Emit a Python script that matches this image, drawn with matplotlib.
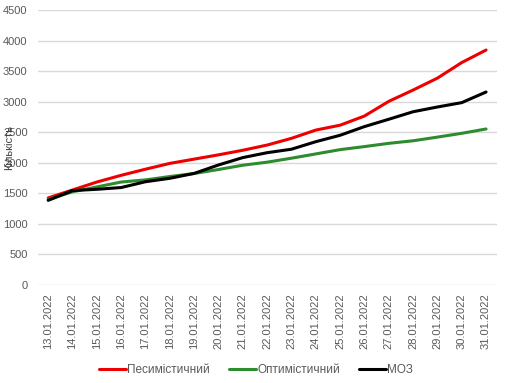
import matplotlib
matplotlib.use("Agg")
import matplotlib.pyplot as plt

dates = ["13.01.2022", "14.01.2022", "15.01.2022", "16.01.2022", "17.01.2022",
         "18.01.2022", "19.01.2022", "20.01.2022", "21.01.2022", "22.01.2022",
         "23.01.2022", "24.01.2022", "25.01.2022", "26.01.2022", "27.01.2022",
         "28.01.2022", "29.01.2022", "30.01.2022", "31.01.2022"]
pessimistic = [1425, 1555, 1685, 1795, 1895, 1990, 2060, 2130, 2205, 2290,
               2400, 2535, 2615, 2765, 3005, 3190, 3385, 3640, 3845]
optimistic = [1400, 1525, 1605, 1685, 1720, 1775, 1825, 1890, 1960, 2010,
              2075, 2145, 2215, 2265, 2318, 2360, 2420, 2482, 2553]
moz = [1385, 1545, 1566, 1595, 1690, 1746, 1826, 1964, 2085, 2165,
       2222, 2345, 2450, 2592, 2712, 2835, 2913, 2984, 3158]
yticks = [0, 500, 1000, 1500, 2000, 2500, 3000, 3500, 4000, 4500]

plt.rcParams['font.family'] = ['Liberation Sans', 'DejaVu Sans']

fig = plt.figure(figsize=(5.07, 3.83), dpi=100)
ax = fig.add_axes([38/507, 1-285/383, (497-38)/507, (285-10)/383])

x = list(range(len(dates)))
ax.plot(x, pessimistic, color='#EE0000', lw=2.2, label='Песимістичний', solid_capstyle='round')
ax.plot(x, optimistic, color='#2E8B2E', lw=2.2, label='Оптимістичний', solid_capstyle='round')
ax.plot(x, moz, color='#000000', lw=2.2, label='МОЗ', solid_capstyle='round')

ax.set_xlim(-0.42, len(dates) - 1 + 0.45)
ax.set_ylim(0, 4500)
ax.set_yticks(yticks)
ax.set_yticklabels([str(v) for v in yticks])
ax.set_xticks(x)
ax.set_xticklabels(dates, rotation=90)
ax.tick_params(axis='both', length=0, colors='#595959', labelsize=8)
ax.tick_params(axis='y', pad=7.5)
ax.tick_params(axis='x', pad=6)
ax.grid(axis='y', color='#D9D9D9', lw=1)
ax.set_axisbelow(True)
for s in ax.spines.values():
    s.set_visible(False)

fig.text(9/507, 1-148/383, 'Кількість', rotation=90, ha='center', va='center',
         fontsize=8, color='#404040')

leg = fig.legend(loc='center', bbox_to_anchor=(256/507, 1-370/383), ncol=3,
                 frameon=False, fontsize=8.5, handlelength=2.3, handletextpad=0.1,
                 columnspacing=1.6)
for t in leg.get_texts():
    t.set_color('#595959')

fig.savefig('out.png', dpi=100)
